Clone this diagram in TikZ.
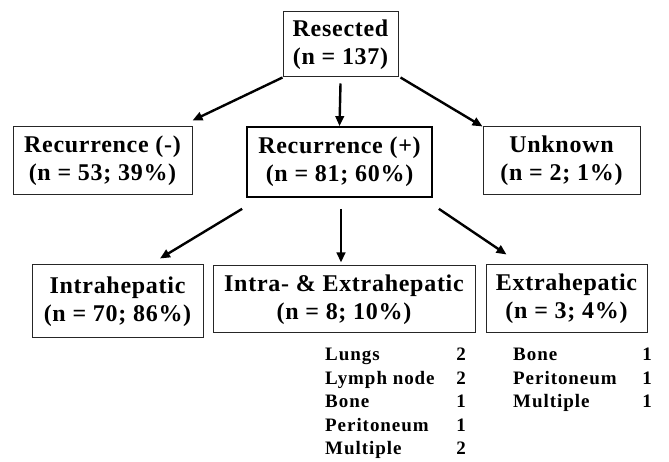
\documentclass[tikz,border=0pt]{standalone}
\usepackage{fontspec}
\setmainfont{Liberation Serif}
\newfontfamily\boxfont[LetterSpace=3]{Liberation Serif}
\newfontfamily\listfont[LetterSpace=5]{Liberation Serif}
\usetikzlibrary{arrows.meta}

\begin{document}
\begin{tikzpicture}[x=1pt,y=1pt]
\tikzstyle{every node}+=[inner sep=0pt]
\tikzstyle{box}=[draw=black!85, line width=1pt, align=center, font=\boxfont\fontsize{24}{28}\selectfont\bfseries]
\tikzstyle{arr}=[line width=2.4pt, -{Triangle[length=10pt,width=8.5pt]}]
\tikzstyle{item}=[font=\listfont\fontsize{19}{21}\selectfont\bfseries]
\useasboundingbox (0,0) rectangle (669,462);
% first level
\node [box, minimum width=115pt, minimum height=65pt] (res) at (340.5,417.5) {Resected\\(n = 137)};
% second level
\node [box, minimum width=179pt, minimum height=68pt] (rneg) at (102.5,301) {Recurrence (-)\\(n = 53; 39\%)};
\node [box, line width=1.7pt, draw=black, minimum width=185pt, minimum height=70pt] (rpos) at (339.5,300) {Recurrence (+)\\(n = 81; 60\%)};
\node [box, minimum width=157pt, minimum height=68pt] (unk) at (561.5,301) {Unknown\\(n = 2; 1\%)};
% third level
\node [box, minimum width=171pt, minimum height=73pt] (intra) at (117.5,160.5) {Intrahepatic\\(n = 70; 86\%)};
\node [box, minimum width=262pt, minimum height=67pt] (both) at (344,162.5) {Intra- \& Extrahepatic\\(n = 8; 10\%)};
\node [box, minimum width=161pt, minimum height=68pt] (extra) at (566.5,163) {Extrahepatic\\(n = 3; 4\%)};
% arrows
\draw [arr] (res.south west) -- ([yshift=6pt]rneg.north east);
\draw [arr] ([yshift=-6pt]res.south) -- (rpos.north);
\draw [arr] ([xshift=2pt]res.south east) -- (unk.north west);
\draw [arr] ([shift={(-4pt,-11pt)}]rpos.south west) -- ([shift={(42.5pt,6pt)}]intra.north);
\draw [arr] ([shift={(1.5pt,-11pt)}]rpos.south) -- ([shift={(-3pt,3pt)}]both.north);
\draw [arr] ([shift={(6pt,-11pt)}]rpos.south east) -- ([shift={(21pt,10pt)}]extra.north west);
% sites
\foreach \lbl/\num [count=\i] in {Lungs/2, Lymph node/2, Bone/1, Peritoneum/1, Multiple/2} {
  \node [item, anchor=base west] (sitea\i) at (325,{101-23.5*(\i-1)}) {\lbl};
  \node [item, anchor=base] (cnta\i) at (461,{101-23.5*(\i-1)}) {\num};
}
\foreach \lbl/\num [count=\i] in {Bone/1, Peritoneum/1, Multiple/1} {
  \node [item, anchor=base west] (siteb\i) at (513,{101-23.5*(\i-1)}) {\lbl};
  \node [item, anchor=base] (cntb\i) at (647,{101-23.5*(\i-1)}) {\num};
}
\end{tikzpicture}
\end{document}
